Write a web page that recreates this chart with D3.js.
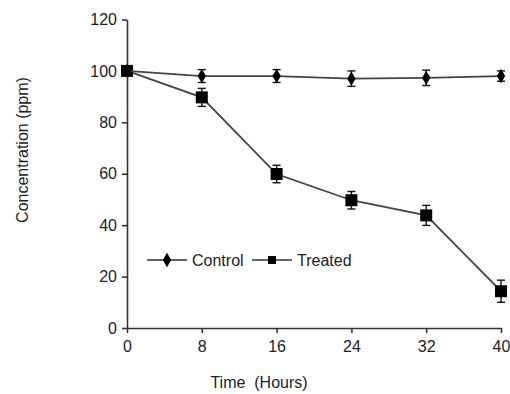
<!DOCTYPE html>
<html><head><meta charset="utf-8">
<script src="https://cdn.jsdelivr.net/npm/d3@7"></script>
<style>body{margin:0;background:#fff}svg{display:block}text{font-family:"Liberation Sans",Arial,sans-serif;fill:#222}</style>
</head><body>
<script>
const hours = [0, 8, 16, 24, 32, 40];
const controlValues = [100, 98, 98, 97, 97.3, 98];
const controlErrors = [1, 2.5, 2.5, 3, 3, 2];
const treatedValues = [100, 89.7, 59.9, 49.7, 43.8, 14.3];
const treatedErrors = [1, 3.5, 3.4, 3.4, 3.9, 4.3];
const yTicks = [0, 20, 40, 60, 80, 100, 120];
const xTicks = [0, 8, 16, 24, 32, 40];
const seriesNames = ["Control", "Treated"];

const W = 510, H = 394;
const svg = d3.select("body").append("svg").attr("width", W).attr("height", H);
const x = d3.scaleLinear().domain([0, 40]).range([127, 501]);
const y = d3.scaleLinear().domain([0, 120]).range([328, 19.5]);

const xAxis = svg.append("g").attr("transform", `translate(0,${y(0)})`)
  .call(d3.axisBottom(x).tickValues(xTicks).tickSize(5).tickSizeOuter(0).tickPadding(8));
const yAxis = svg.append("g").attr("transform", `translate(${x(0)},0)`)
  .call(d3.axisLeft(y).tickValues(yTicks).tickSize(5).tickSizeOuter(0).tickPadding(5));
[xAxis, yAxis].forEach(a => {
  a.select(".domain").attr("stroke", "#333").attr("stroke-width", 1.6);
  a.selectAll(".tick line").attr("stroke", "#333").attr("stroke-width", 1.6);
  a.selectAll(".tick text").style("font-size", "16px").attr("fill", "#222");
});

svg.append("text").attr("x", 259).attr("y", 388).attr("text-anchor", "middle")
  .style("font-size", "16px").style("white-space", "pre").text("Time  (Hours)");
svg.append("text").attr("transform", "translate(28,150) rotate(-90)").attr("text-anchor", "middle")
  .style("font-size", "16px").text("Concentration (ppm)");

const line = d3.line().x((d, i) => x(hours[i])).y(d => y(d));
const diamond = d3.symbol().type(d3.symbolDiamond).size(60);
const square = d3.symbol().type(d3.symbolSquare).size(144);

function drawSeries(vals, errs, sym) {
  const g = svg.append("g");
  g.append("path").datum(vals).attr("d", line).attr("fill", "none").attr("stroke", "#444").attr("stroke-width", 1.8);
  vals.forEach((v, i) => {
    const cx = x(hours[i]);
    const eb = g.append("g").attr("stroke", "#111").attr("stroke-width", 1.4);
    eb.append("line").attr("x1", cx).attr("x2", cx).attr("y1", y(v + errs[i])).attr("y2", y(v - errs[i]));
    eb.append("line").attr("x1", cx - 4).attr("x2", cx + 4).attr("y1", y(v + errs[i])).attr("y2", y(v + errs[i]));
    eb.append("line").attr("x1", cx - 4).attr("x2", cx + 4).attr("y1", y(v - errs[i])).attr("y2", y(v - errs[i]));
    g.append("path").attr("d", sym()).attr("transform", `translate(${cx},${y(v)})`).attr("fill", "#000");
  });
}
drawSeries(treatedValues, treatedErrors, square);
drawSeries(controlValues, controlErrors, diamond);

// legend
const leg = svg.append("g");
const items = [{x0: 147, x1: 187, tx: 192, sym: diamond, name: seriesNames[0]},
               {x0: 252, x1: 292, tx: 297, sym: d3.symbol().type(d3.symbolSquare).size(64), name: seriesNames[1]}];
items.forEach(it => {
  leg.append("line").attr("x1", it.x0).attr("x2", it.x1).attr("y1", 260).attr("y2", 260).attr("stroke", "#333").attr("stroke-width", 1.6);
  leg.append("path").attr("d", it.sym()).attr("transform", `translate(${(it.x0 + it.x1) / 2},260)`).attr("fill", "#000");
  leg.append("text").attr("x", it.tx).attr("y", 266).style("font-size", "16px").text(it.name);
});
</script>
</body></html>
